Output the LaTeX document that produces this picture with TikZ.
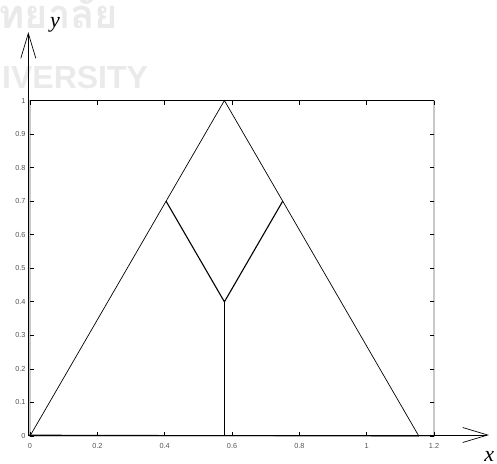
\documentclass[tikz,border=0pt]{standalone}
\usepackage{fontspec}
\setmainfont{Liberation Serif}
\setsansfont{Liberation Sans}
\newfontfamily\thaifont[Script=Thai]{Loma}
\usetikzlibrary{arrows.meta,positioning}

\begin{document}
\begin{tikzpicture}[
    x=336.7pt, y=335.5pt,
    every node/.style={
        inner sep=0pt
    },
    plotframe/.style={
        draw=black,
        line width=0.6pt
    },
    tickline/.style={
        draw=black,
        line width=0.8pt
    },
    ticklabel/.style={
        font=\sffamily\fontsize{7.3}{8}\selectfont,
        text=ticktext
    },
    sideline/.style={
        draw=black,
        line width=0.7pt
    },
    branchline/.style={
        draw=black,
        line width=1.1pt
    },
    axisarrow/.style={
        draw=black,
        line width=0.7pt,
        -{Straight Barb[length=25pt, width=15pt, line width=0.7pt]}
    },
    axislabel/.style={
        font=\itshape\fontsize{22}{24}\selectfont
    },
    watermark/.style={
        text=markgray,
        font=\sffamily\bfseries\fontsize{32}{34}\selectfont
    }
]

%--- Color Definitions ---%
\definecolor{ticktext}{RGB}{85,85,85}
\definecolor{markgray}{RGB}{234,234,234}
\definecolor{framegray}{RGB}{200,200,200}

\useasboundingbox (-0.0891,-0.0805) rectangle (1.3870,1.2996);

%-----------------------------------------------
% WATERMARK
%-----------------------------------------------
\node[watermark, font=\thaifont\bfseries\fontsize{40}{42}\selectfont, anchor=base west]
    (markthai) at (-0.095,1.216) {ทยาลัย};
\node[watermark, anchor=base east]
    (markuni) at (0.351,1.037) {IVERSITY};

%-----------------------------------------------
% PLOT FRAME AND TICKS
%-----------------------------------------------
\draw[plotframe, draw=framegray, line width=1.2pt] (0,0) rectangle (1.2,1);
\draw[plotframe] (0,1) -- (1.2,1);

\foreach \xt/\xl in {0/0, 0.2/0.2, 0.4/0.4, 0.6/0.6, 0.8/0.8, 1/1, 1.2/1.2} {
    \draw[tickline] (\xt,0) -- (\xt,0.012);
    \draw[tickline] (\xt,1) -- (\xt,0.988);
    \node[ticklabel, anchor=north] (xl\xl) at (\xt,-0.022) {\xl};
}
\foreach \yt in {0, 0.1, 0.2, 0.3, 0.4, 0.5, 0.6, 0.7, 0.8, 0.9, 1} {
    \draw[tickline] (0,\yt) -- (0.012,\yt);
    \draw[tickline] (1.2,\yt) -- (1.188,\yt);
    \node[ticklabel, anchor=east] (yl\yt) at (-0.013,\yt) {\yt};
}

%-----------------------------------------------
% TRIANGLE AND BRANCHES
%-----------------------------------------------
\coordinate (left)  at (0,0);
\coordinate (apex)  at (0.5774,1);
\coordinate (right) at (1.1547,0);
\coordinate (wl)    at (0.4041,0.7);
\coordinate (wr)    at (0.7506,0.7);
\coordinate (joint) at (0.5774,0.4);
\coordinate (foot)  at (0.5774,0);

\draw[sideline] (left) -- (apex) -- (right);
\draw[branchline] (wl) -- (joint) -- (wr);
\draw[branchline] (joint) -- (foot);

%-----------------------------------------------
% AXES
%-----------------------------------------------
\coordinate (origin) at (-0.005,0.003);
\coordinate (xend)   at (1.363,0.003);
\coordinate (yend)   at (-0.005,1.204);

\draw[axisarrow] (origin) -- (xend);
\draw[axisarrow] (origin) -- (yend);
\draw[sideline] (origin) -- (right);

\node[axislabel] (ylabel) at (0.074,1.226) {y};
\node[axislabel] (xlabel) at (1.364,-0.062) {x};

\end{tikzpicture}
\end{document}
